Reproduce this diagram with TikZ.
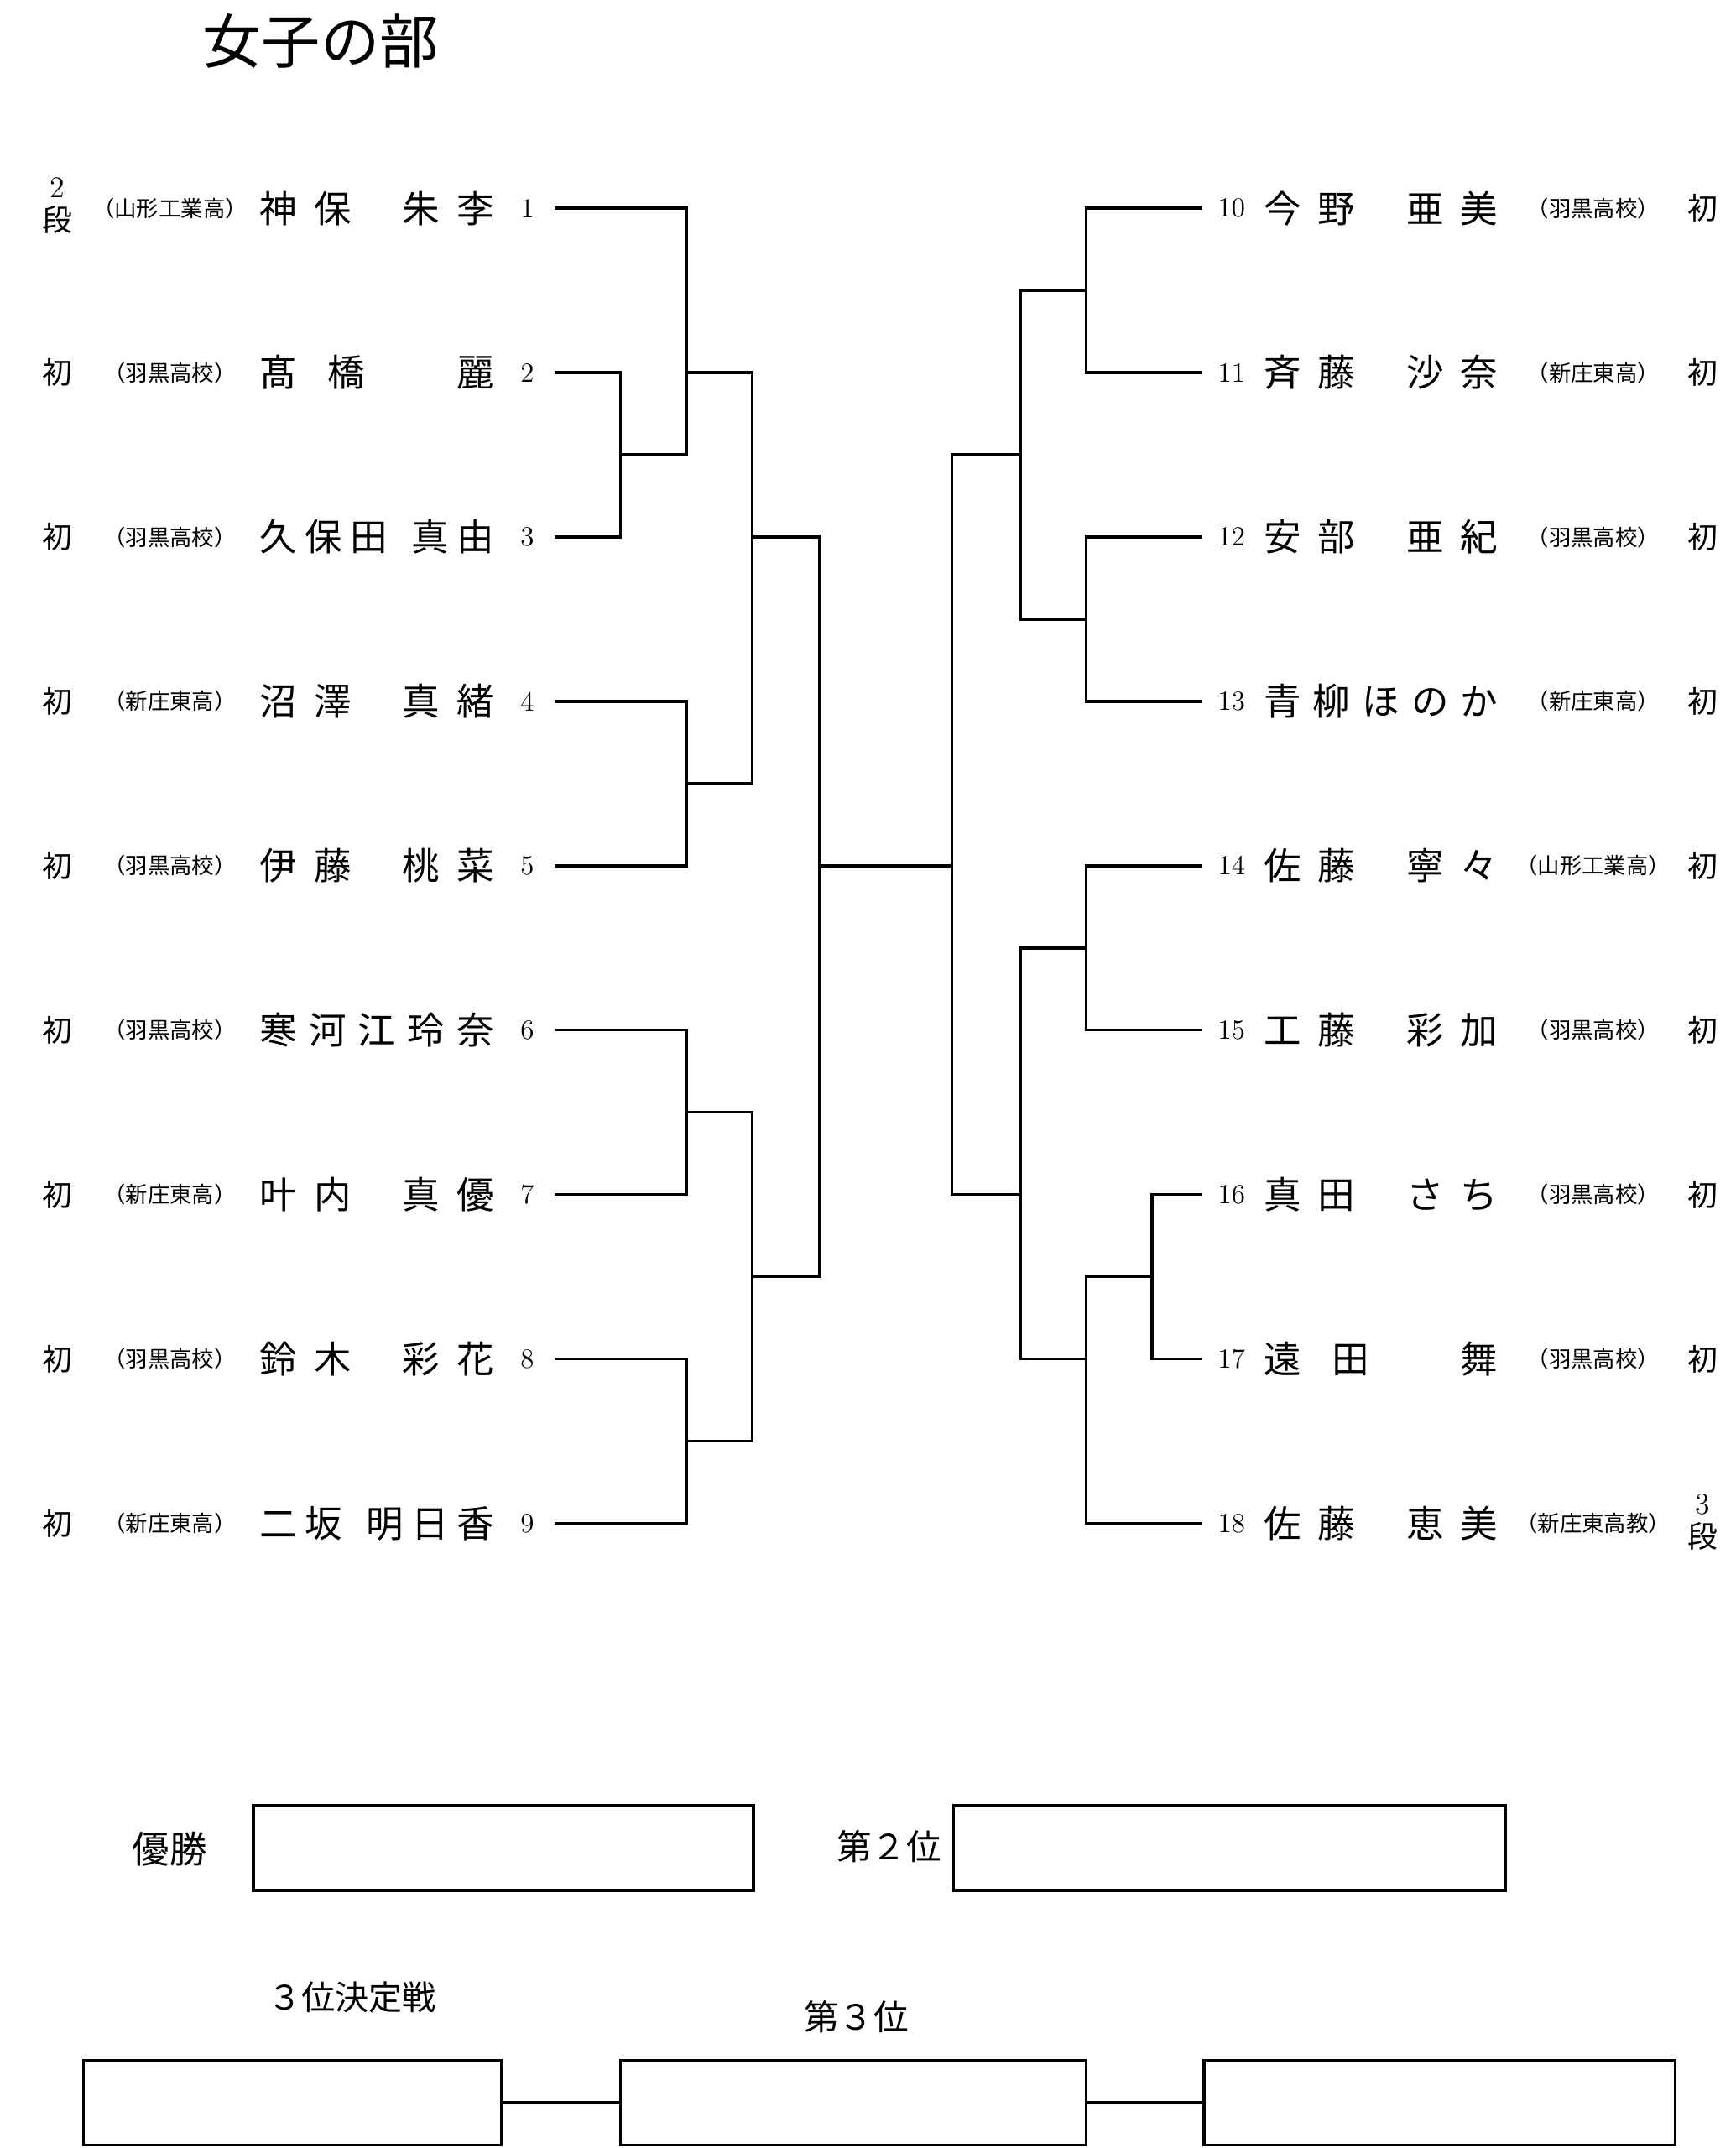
\documentclass[tikz,border=0pt]{standalone}
\usepackage{fontspec}
\newfontfamily\jp{Noto Sans CJK JP}
\usetikzlibrary{positioning}
\tikzstyle{name_text}=[inner sep=0pt, font=\jp\fontsize{15.5}{16}\selectfont]
\tikzstyle{school_text}=[inner sep=0pt, font=\jp\fontsize{9.2}{10}\selectfont]
\tikzstyle{rank_text}=[inner sep=0pt, align=center, font=\jp\fontsize{12.5}{14}\selectfont]
\tikzstyle{seed_text}=[inner sep=0pt, font=\fontsize{11.5}{12}\selectfont]
\tikzstyle{label_text}=[inner sep=0pt, font=\jp\fontsize{14.5}{16}\selectfont]
\tikzstyle{bracket}=[line width=1.2pt]
\tikzstyle{result_box}=[draw, line width=1.2pt, minimum height=1.24cm, inner sep=0pt]
\newcommand{\nmbox}[1]{\makebox[3.42cm]{#1}}
\newcommand{\sch}[1]{\makebox[.5em][r]{（}#1\makebox[.5em][l]{）}}
\newcommand{\gp}{\hfill\hfill\hfill}
\begin{document}
\begin{tikzpicture}[x=0.2mm, y=-0.2mm]
              \useasboundingbox (0,0) rectangle (1267,1568);
              \node[inner sep=0pt, font=\jp\fontsize{24.5}{26}\selectfont] (title) at (234,30) {女子の部};
              % left side
              \node[rank_text] (k1) at (42,150) {{\normalfont 2}\\段};
              \node[rank_text] (k2) at (42,272) {初};
              \node[rank_text] (k3) at (42,392) {初};
              \node[rank_text] (k4) at (42,512) {初};
              \node[rank_text] (k5) at (42,632) {初};
              \node[rank_text] (k6) at (42,752) {初};
              \node[rank_text] (k7) at (42,872) {初};
              \node[rank_text] (k8) at (42,992) {初};
              \node[rank_text] (k9) at (42,1112) {初};
              \node[school_text] (s1) at (124,152) {\sch{山形工業高}};
              \node[school_text] (s2) at (124,272) {\sch{羽黒高校}};
              \node[school_text] (s3) at (124,392) {\sch{羽黒高校}};
              \node[school_text] (s4) at (124,512) {\sch{新庄東高}};
              \node[school_text] (s5) at (124,632) {\sch{羽黒高校}};
              \node[school_text] (s6) at (124,752) {\sch{羽黒高校}};
              \node[school_text] (s7) at (124,872) {\sch{新庄東高}};
              \node[school_text] (s8) at (124,992) {\sch{羽黒高校}};
              \node[school_text] (s9) at (124,1112) {\sch{新庄東高}};
              \node[name_text] (n1) at (275,152) {\nmbox{神\hfill 保\gp 朱\hfill 李}};
              \node[name_text] (n2) at (275,272) {\nmbox{髙\hfill 橋\gp 麗}};
              \node[name_text] (n3) at (275,392) {\nmbox{久\hfill 保\hfill 田\gp 真\hfill 由}};
              \node[name_text] (n4) at (275,512) {\nmbox{沼\hfill 澤\gp 真\hfill 緒}};
              \node[name_text] (n5) at (275,632) {\nmbox{伊\hfill 藤\gp 桃\hfill 菜}};
              \node[name_text] (n6) at (275,752) {\nmbox{寒\hfill 河\hfill 江\hfill 玲\hfill 奈}};
              \node[name_text] (n7) at (275,872) {\nmbox{叶\hfill 内\gp 真\hfill 優}};
              \node[name_text] (n8) at (275,992) {\nmbox{鈴\hfill 木\gp 彩\hfill 花}};
              \node[name_text] (n9) at (275,1112) {\nmbox{二\hfill 坂\gp 明\hfill 日\hfill 香}};
              \node[seed_text] (d1) at (385,152) {1};
              \node[seed_text] (d2) at (385,272) {2};
              \node[seed_text] (d3) at (385,392) {3};
              \node[seed_text] (d4) at (385,512) {4};
              \node[seed_text] (d5) at (385,632) {5};
              \node[seed_text] (d6) at (385,752) {6};
              \node[seed_text] (d7) at (385,872) {7};
              \node[seed_text] (d8) at (385,992) {8};
              \node[seed_text] (d9) at (385,1112) {9};
              % right side
              \node[seed_text] (d10) at (899,152) {10};
              \node[seed_text] (d11) at (899,272) {11};
              \node[seed_text] (d12) at (899,392) {12};
              \node[seed_text] (d13) at (899,512) {13};
              \node[seed_text] (d14) at (899,632) {14};
              \node[seed_text] (d15) at (899,752) {15};
              \node[seed_text] (d16) at (899,872) {16};
              \node[seed_text] (d17) at (899,992) {17};
              \node[seed_text] (d18) at (899,1112) {18};
              \node[name_text] (n10) at (1008,152) {\nmbox{今\hfill 野\gp 亜\hfill 美}};
              \node[name_text] (n11) at (1008,272) {\nmbox{斉\hfill 藤\gp 沙\hfill 奈}};
              \node[name_text] (n12) at (1008,392) {\nmbox{安\hfill 部\gp 亜\hfill 紀}};
              \node[name_text] (n13) at (1008,512) {\nmbox{青\hfill 柳\hfill ほ\hfill の\hfill か}};
              \node[name_text] (n14) at (1008,632) {\nmbox{佐\hfill 藤\gp 寧\hfill 々}};
              \node[name_text] (n15) at (1008,752) {\nmbox{工\hfill 藤\gp 彩\hfill 加}};
              \node[name_text] (n16) at (1008,872) {\nmbox{真\hfill 田\gp さ\hfill ち}};
              \node[name_text] (n17) at (1008,992) {\nmbox{遠\hfill 田\gp 舞}};
              \node[name_text] (n18) at (1008,1112) {\nmbox{佐\hfill 藤\gp 恵\hfill 美}};
              \node[school_text] (s10) at (1163,152) {\sch{羽黒高校}};
              \node[school_text] (s11) at (1163,272) {\sch{新庄東高}};
              \node[school_text] (s12) at (1163,392) {\sch{羽黒高校}};
              \node[school_text] (s13) at (1163,512) {\sch{新庄東高}};
              \node[school_text] (s14) at (1163,632) {\sch{山形工業高}};
              \node[school_text] (s15) at (1163,752) {\sch{羽黒高校}};
              \node[school_text] (s16) at (1163,872) {\sch{羽黒高校}};
              \node[school_text] (s17) at (1163,992) {\sch{羽黒高校}};
              \node[school_text] (s18) at (1163,1112) {\sch{新庄東高教}};
              \node[rank_text] (k10) at (1243,152) {初};
              \node[rank_text] (k11) at (1243,272) {初};
              \node[rank_text] (k12) at (1243,392) {初};
              \node[rank_text] (k13) at (1243,512) {初};
              \node[rank_text] (k14) at (1243,632) {初};
              \node[rank_text] (k15) at (1243,752) {初};
              \node[rank_text] (k16) at (1243,872) {初};
              \node[rank_text] (k17) at (1243,992) {初};
              \node[rank_text] (k18) at (1243,1111) {{\normalfont 3}\\段};
              % bracket ends and joints
              \coordinate (l1) at (405,152);
              \coordinate (l2) at (405,272);
              \coordinate (l3) at (405,392);
              \coordinate (l4) at (405,512);
              \coordinate (l5) at (405,632);
              \coordinate (l6) at (405,752);
              \coordinate (l7) at (405,872);
              \coordinate (l8) at (405,992);
              \coordinate (l9) at (405,1112);
              \coordinate (r10) at (877,152);
              \coordinate (r11) at (877,272);
              \coordinate (r12) at (877,392);
              \coordinate (r13) at (877,512);
              \coordinate (r14) at (877,632);
              \coordinate (r15) at (877,752);
              \coordinate (r16) at (877,872);
              \coordinate (r17) at (877,992);
              \coordinate (r18) at (877,1112);
              \coordinate (j23) at (453,332);
              \coordinate (j123) at (501,272);
              \coordinate (j45) at (501,572);
              \coordinate (j1to5) at (549,392);
              \coordinate (j67) at (501,812);
              \coordinate (j89) at (501,1052);
              \coordinate (j6to9) at (549,932);
              \coordinate (jL) at (598,632);
              \coordinate (jR) at (695,632);
              \coordinate (j1011) at (793,212);
              \coordinate (j1213) at (793,452);
              \coordinate (j10to13) at (745,332);
              \coordinate (j1415) at (793,692);
              \coordinate (j1617) at (841,932);
              \coordinate (j16to18) at (793,992);
              \coordinate (j14to18) at (745,872);
              \draw[bracket] (l1) -| (j123);
              \draw[bracket] (l2) -| (j23);
              \draw[bracket] (l3) -| (j23);
              \draw[bracket] (j23) -| (j123);
              \draw[bracket] (j123) -| (j1to5);
              \draw[bracket] (l4) -| (j45);
              \draw[bracket] (l5) -| (j45);
              \draw[bracket] (j45) -| (j1to5);
              \draw[bracket] (j1to5) -| (jL);
              \draw[bracket] (l6) -| (j67);
              \draw[bracket] (l7) -| (j67);
              \draw[bracket] (l8) -| (j89);
              \draw[bracket] (l9) -| (j89);
              \draw[bracket] (j67) -| (j6to9);
              \draw[bracket] (j89) -| (j6to9);
              \draw[bracket] (j6to9) -| (jL);
              \draw[bracket] (jL) -- (jR);
              \draw[bracket] (r10) -| (j1011);
              \draw[bracket] (r11) -| (j1011);
              \draw[bracket] (r12) -| (j1213);
              \draw[bracket] (r13) -| (j1213);
              \draw[bracket] (j1011) -| (j10to13);
              \draw[bracket] (j1213) -| (j10to13);
              \draw[bracket] (j10to13) -| (jR);
              \draw[bracket] (r14) -| (j1415);
              \draw[bracket] (r15) -| (j1415);
              \draw[bracket] (r16) -| (j1617);
              \draw[bracket] (r17) -| (j1617);
              \draw[bracket] (j1617) -| (j16to18);
              \draw[bracket] (r18) -| (j16to18);
              \draw[bracket] (j1415) -| (j14to18);
              \draw[bracket] (j16to18) -| (j14to18);
              \draw[bracket] (j14to18) -| (jR);
              % results
              \node[label_text, font=\jp\fontsize{15.5}{16}\selectfont] (win) at (124,1350) {優勝};
              \node[result_box, minimum width=7.3cm] (winbox) at (367.5,1349) {};
              \node[label_text] (second) at (649,1348) {第２位};
              \node[result_box, minimum width=8.06cm] (secondbox) at (897.5,1349) {};
              \node[label_text, font=\jp\fontsize{14}{16}\selectfont] (playoff) at (257,1458) {３位決定戦};
              \node[label_text] (third) at (625,1472) {第３位};
              \node[result_box, minimum width=6.1cm] (pleft) at (213.5,1535) {};
              \node[result_box, minimum width=6.8cm] (pmid) at (623,1535) {};
              \node[result_box, minimum width=6.88cm] (pright) at (1051,1535) {};
              \draw[bracket] (pleft) -- (pmid);
              \draw[bracket] (pmid) -- (pright);
            \end{tikzpicture}
\end{document}
